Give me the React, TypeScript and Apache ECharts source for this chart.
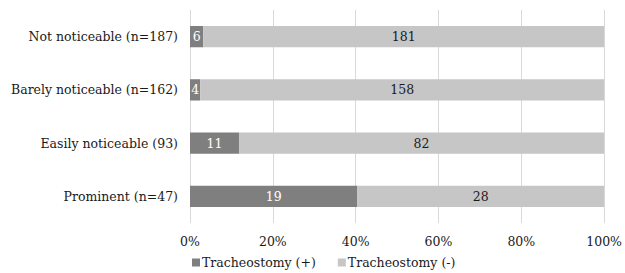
import React, { useEffect, useRef } from "react";
import * as echarts from "echarts";

const categories = [
  "Not noticeable (n=187)",
  "Barely noticeable (n=162)",
  "Easily noticeable (93)",
  "Prominent (n=47)",
];
const seriesNames = ["Tracheostomy (+)", "Tracheostomy (-)"];
const trachPlus = [6, 4, 11, 19];
const trachMinus = [181, 158, 82, 28];

const FONT = "DejaVu Serif";
const FS = 12.5;
const TXT = "#1a1a1a";

export default function App() {
  const ref = useRef<HTMLDivElement>(null);
  useEffect(() => {
    if (!ref.current) return;
    const chart = echarts.init(ref.current, undefined, { renderer: "svg" });
    const totals = trachPlus.map((v, i) => v + trachMinus[i]);
    const mk = (arr: number[]) =>
      arr.map((v, i) => ({ value: (v / totals[i]) * 100, count: v }));
    chart.setOption({
      animation: false,
      textStyle: { fontFamily: FONT },
      grid: { left: 190, right: 19, top: 10, bottom: 50, containLabel: false },
      legend: {
        bottom: -1,
        left: 187,
        itemWidth: 8,
        itemHeight: 8,
        itemGap: 22,
        icon: "rect",
        textStyle: { fontFamily: FONT, fontSize: FS, color: TXT, padding: [0, 0, 0, -3] },
        data: seriesNames,
      },
      xAxis: {
        type: "value",
        min: 0,
        max: 100,
        interval: 20,
        axisLabel: { formatter: "{value}%", fontFamily: FONT, fontSize: FS, color: TXT, margin: 12 },
        splitLine: { lineStyle: { color: "#d9d9d9" } },
        axisLine: { show: false },
        axisTick: { show: false },
      },
      yAxis: {
        type: "category",
        inverse: true,
        data: categories,
        axisLabel: { fontFamily: FONT, fontSize: FS, color: TXT, margin: 12 },
        axisLine: { show: false },
        axisTick: { show: false },
      },
      series: [
        {
          name: seriesNames[0],
          type: "bar",
          stack: "t",
          barWidth: "40%",
          itemStyle: { color: "#7f7f7f" },
          label: {
            show: true,
            position: "inside",
            color: "#fff",
            fontFamily: FONT,
            fontSize: FS,
            formatter: (p: any) => String(p.data.count),
          },
          data: mk(trachPlus),
        },
        {
          name: seriesNames[1],
          type: "bar",
          stack: "t",
          barWidth: "40%",
          itemStyle: { color: "#c6c6c6" },
          label: {
            show: true,
            position: "inside",
            color: TXT,
            fontFamily: FONT,
            fontSize: FS,
            formatter: (p: any) => String(p.data.count),
          },
          data: mk(trachMinus),
        },
      ],
    });
    return () => chart.dispose();
  }, []);
  return <div ref={ref} style={{ width: 625, height: 273, position: "absolute", left: 0, top: 0 }} />;
}
